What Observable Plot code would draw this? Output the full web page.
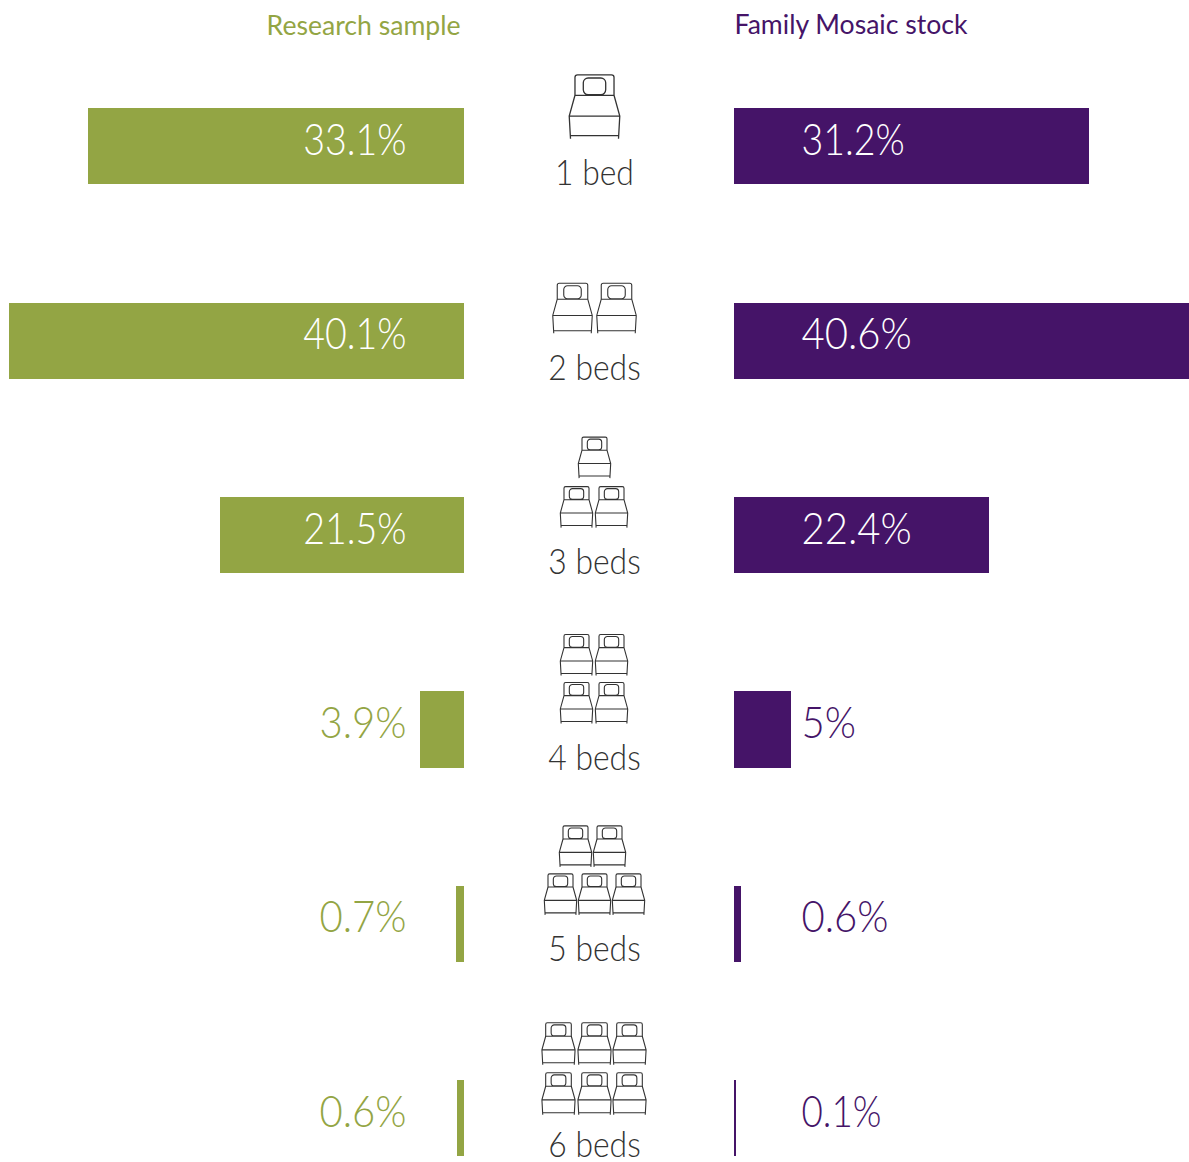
<!DOCTYPE html>
<html><head><meta charset="utf-8">
<style>html,body{margin:0;padding:0;background:#fff;overflow:hidden}svg{display:block}</style>
<script src="https://cdn.jsdelivr.net/npm/d3@7"></script>
<script src="https://cdn.jsdelivr.net/npm/@observablehq/plot@0.6"></script>
</head><body><div id="chart"></div>
<script>
const categories = ["1 bed","2 beds","3 beds","4 beds","5 beds","6 beds"];
const researchSample = [33.1,40.1,21.5,3.9,0.7,0.6];
const researchLabels = ["33.1%","40.1%","21.5%","3.9%","0.7%","0.6%"];
const familyMosaic = [31.2,40.6,22.4,5,0.6,0.1];
const familyLabels = ["31.2%","40.6%","22.4%","5%","0.6%","0.1%"];
const bedRows = [[1],[2],[1,2],[2,2],[2,3],[3,3]];

const GREEN="#93a544", PURPLE="#451468", INK="#333333";
const FONT="Lato, 'Open Sans', sans-serif";
const rows = categories.map((cat,i)=>({cat,i,left:researchSample[i],right:familyMosaic[i],ll:researchLabels[i],rl:familyLabels[i]}));

// bed outline, unit half-height
const bed = {draw(c,size){
  const k=Math.sqrt(size/Math.PI), P=(x,y)=>[x*k,y*k];
  const corner=(x0,y0,x1,y1,r)=>c.arcTo(...P(x0,y0),...P(x1,y1),r*k);
  // headboard
  c.moveTo(...P(-.61,-.36)); c.lineTo(...P(-.61,-.92)); corner(-.61,-1,-.53,-1,.08);
  c.lineTo(...P(.53,-1)); corner(.61,-1,.61,-.92,.08); c.lineTo(...P(.61,-.36));
  // pillow (closed)
  const px=.35,pt=-.9,pb=-.38,pr=.15;
  c.moveTo(...P(-px+pr,pt)); c.lineTo(...P(px-pr,pt)); corner(px,pt,px,pt+pr,pr);
  c.lineTo(...P(px,pb-pr)); corner(px,pb,px-pr,pb,pr);
  c.lineTo(...P(-px+pr,pb)); corner(-px,pb,-px,pb-pr,pr);
  c.lineTo(...P(-px,pt+pr)); corner(-px,pt,-px+pr,pt,pr); c.closePath();
  const seg=(...p)=>{c.moveTo(...P(p[0],p[1])); for(let j=2;j<p.length;j+=2)c.lineTo(...P(p[j],p[j+1]));};
  seg(-.61,-.36,.61,-.36);
  seg(-.61,-.36,-.79,.29,-.75,1);
  seg(.61,-.36,.79,.29,.75,1);
  seg(-.79,.29,.79,.29);
  seg(-.75,.9,.75,.9);
}};

// icon layout per category: half-height, row offsets, column offsets, caption offset
const iconLayout = [
 {r:32,  dy:[-40],      cx:[[-5]],                       cap:27},
 {r:25,  dy:[-33],      cx:[[-27,17]],                   cap:28},
 {r:20.5,dy:[-78,-28.5],cx:[[-5],[-23,12]],              cap:27},
 {r:20.5,dy:[-75,-27],  cx:[[-23,12],[-23,12]],          cap:28.5},
 {r:20.5,dy:[-78,-30],  cx:[[-24,10],[-39,-5,29]],       cap:25},
 {r:21,  dy:[-75,-25],  cx:[[-41,-5,30],[-41,-5,30]],    cap:27}
];
const iconMarks=[], captionMarks=[];
rows.forEach((d,i)=>{
  const L=iconLayout[i];
  bedRows[i].forEach((n,ri)=>{
    for(let k=0;k<n;k++) iconMarks.push(Plot.dot([d],{x:()=>0,y:"cat",dx:L.cx[ri][k],dy:L.dy[ri],r:L.r,symbol:bed,fill:"none",stroke:INK,strokeWidth:i==0?1.3:1.1}));
  });
  captionMarks.push(Plot.text([d],{x:()=>0,y:"cat",text:"cat",dx:-5,dy:L.cap,textAnchor:"middle",fontSize:35,fontWeight:300,fill:INK,className:"fit-cap"}));
});
const inside=(v)=>v>10;
const chart = Plot.plot({
  width:1189,height:1162,margin:0,
  style:{background:"#fff",fontFamily:FONT},
  x:{domain:[-599/11.35,590/11.35],range:[0,1189],axis:null},
  y:{type:"band",domain:categories,range:[108.3,1156.3],paddingInner:.609,paddingOuter:0,axis:null,round:false},
  marks:[
    Plot.barX(rows,{x1:()=>0,x2:d=>-d.left,y:"cat",dx:-135,fill:GREEN,shapeRendering:"crispEdges"}),
    Plot.barX(rows,{x1:()=>0,x2:d=>d.right,y:"cat",dx:135.4,fill:PURPLE,shapeRendering:"crispEdges"}),
    Plot.text(rows,{x:()=>0,y:"cat",text:"ll",dx:-193,dy:-6,textAnchor:"end",fontSize:44,fontWeight:300,fill:d=>inside(d.left)?"#fff":GREEN,className:"fit-val"}),
    Plot.text(rows,{x:()=>0,y:"cat",text:"rl",dx:202,dy:-6,textAnchor:"start",fontSize:44,fontWeight:300,fill:d=>inside(d.right)?"#fff":PURPLE,className:"fit-val"}),
    ...captionMarks,
    Plot.text(["Research sample"],{x:()=>0,y:()=>categories[0],text:d=>d,dx:-139,dy:-120,textAnchor:"end",fontSize:27,fill:GREEN,className:"fit-title"}),
    Plot.text(["Family Mosaic stock"],{x:()=>0,y:()=>categories[0],text:d=>d,dx:135,dy:-121,textAnchor:"start",fontSize:27,fill:PURPLE,className:"fit-title"}),
    ...iconMarks
  ]
});
document.getElementById("chart").append(chart);
// the reference's typeface is narrower than any installed one: condense the glyphs
const condense=(sel,f)=>chart.querySelectorAll(sel+" text").forEach(t=>{
  t.setAttribute("textLength",f(t.getComputedTextLength(),t.textContent));
  t.setAttribute("lengthAdjust","spacingAndGlyphs");
});
const ones=s=>s.split("1").length-1;
condense(".fit-val",(w,s)=>w*.91-7*ones(s));
condense(".fit-cap",(w,s)=>w*.91);
condense(".fit-title",(w,s)=>w*.985);
</script></body></html>
